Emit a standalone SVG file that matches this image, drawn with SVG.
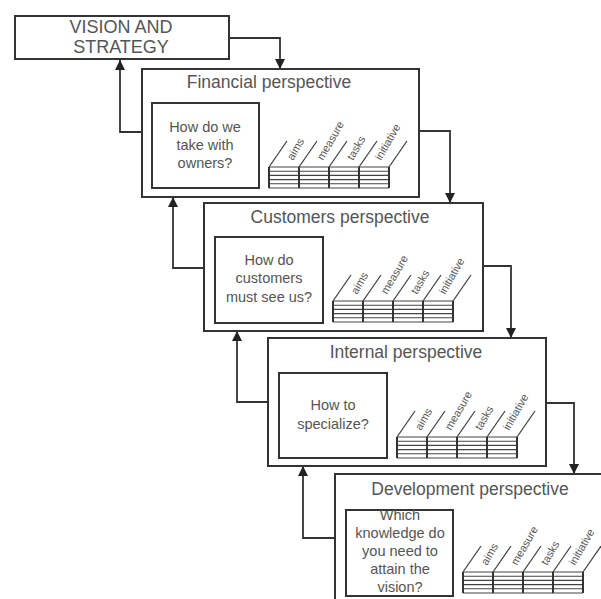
<svg xmlns="http://www.w3.org/2000/svg" xmlns:xlink="http://www.w3.org/1999/xlink" width="601" height="599" viewBox="0 0 601 599">
<style>
  .box { fill: #fff; stroke: #333; stroke-width: 2; }
  .qbox { fill: #fff; stroke: #333; stroke-width: 2; }
  .title { font-family: "Liberation Sans", Arial, sans-serif; font-size: 17.5px; fill: #555; text-anchor: middle; }
  .vis { font-family: "Liberation Sans", Arial, sans-serif; font-size: 18px; fill: #555; text-anchor: middle; }
  .q { font-family: "Liberation Sans", Arial, sans-serif; font-size: 14.5px; fill: #555; text-anchor: middle; }
  .lbl { font-family: "Liberation Sans", Arial, sans-serif; font-size: 11px; fill: #555; }
  .conn { fill: none; stroke: #333; stroke-width: 1.8; marker-end: url(#arr); }
  .h { stroke: #444; stroke-width: 1.1; }
  .v { stroke: #333; stroke-width: 2; }
  .d { stroke: #444; stroke-width: 1.3; }
</style>
<defs>
  <marker id="arr" markerUnits="userSpaceOnUse" markerWidth="10" markerHeight="10" refX="10" refY="5" orient="auto">
    <path d="M0,0 L10,5 L0,10 z" fill="#222"/>
  </marker>
  <g id="stack">
    <line class="h" x1="0" y1="0" x2="120" y2="0"/>
    <line class="h" x1="0" y1="4.2" x2="120" y2="4.2"/>
    <line class="h" x1="0" y1="8.4" x2="120" y2="8.4"/>
    <line class="h" x1="0" y1="12.6" x2="120" y2="12.6"/>
    <line class="h" x1="0" y1="16.8" x2="120" y2="16.8"/>
    <line class="h" x1="0" y1="21" x2="120" y2="21"/>
    <line class="v" x1="0" y1="0" x2="0" y2="21"/>
    <line class="v" x1="30" y1="0" x2="30" y2="21"/>
    <line class="v" x1="60" y1="0" x2="60" y2="21"/>
    <line class="v" x1="90" y1="0" x2="90" y2="21"/>
    <line class="v" x1="120" y1="0" x2="120" y2="21"/>
    <line class="d" x1="0" y1="0" x2="18" y2="-26"/>
    <line class="d" x1="30" y1="0" x2="48" y2="-26"/>
    <line class="d" x1="60" y1="0" x2="78" y2="-26"/>
    <line class="d" x1="90" y1="0" x2="108" y2="-26"/>
    <line class="d" x1="120" y1="0" x2="138" y2="-26"/>
  </g>
</defs>
<rect width="601" height="599" fill="#fff"/>

<g id="connectors">
  <path class="conn" d="M229,38 H280 V69"/>
  <path class="conn" d="M143,132 H120 V60"/>
  <path class="conn" d="M419,131 H450 V203"/>
  <path class="conn" d="M204,268 H173 V197"/>
  <path class="conn" d="M483,266 H511 V338"/>
  <path class="conn" d="M268,402 H237 V331"/>
  <path class="conn" d="M546,403 H574 V474"/>
  <path class="conn" d="M335,538 H303 V466"/>
</g>

<g id="vision">
  <rect class="box" x="15" y="16" width="214" height="43"/>
  <text class="vis" x="121" y="33">VISION AND</text>
  <text class="vis" x="121" y="53">STRATEGY</text>
</g>

<g id="financial">
  <rect class="box" x="142" y="69" width="277" height="128"/>
  <text class="title" x="269" y="88">Financial perspective</text>
  <rect class="qbox" x="152" y="103" width="107" height="85"/>
  <text class="q" x="205" y="132">How do we</text>
  <text class="q" x="205" y="150">take with</text>
  <text class="q" x="205" y="168">owners?</text>
  <use xlink:href="#stack" x="269" y="167"/>
  <text class="lbl" transform="translate(293,161) rotate(-60)">aims</text>
  <text class="lbl" transform="translate(323,161) rotate(-60)">measure</text>
  <text class="lbl" transform="translate(353,161) rotate(-60)">tasks</text>
  <text class="lbl" transform="translate(381,161) rotate(-60)">initiative</text>
</g>

<g id="customers">
  <rect class="box" x="204" y="203" width="279" height="128"/>
  <text class="title" x="340" y="223">Customers perspective</text>
  <rect class="qbox" x="215" y="237" width="108" height="86"/>
  <text class="q" x="269" y="265">How do</text>
  <text class="q" x="269" y="283">customers</text>
  <text class="q" x="269" y="302">must see us?</text>
  <use xlink:href="#stack" x="333" y="301"/>
  <text class="lbl" transform="translate(357,295) rotate(-60)">aims</text>
  <text class="lbl" transform="translate(387,295) rotate(-60)">measure</text>
  <text class="lbl" transform="translate(417,295) rotate(-60)">tasks</text>
  <text class="lbl" transform="translate(445,295) rotate(-60)">initiative</text>
</g>

<g id="internal">
  <rect class="box" x="268" y="338" width="278" height="128"/>
  <text class="title" x="406" y="358">Internal perspective</text>
  <rect class="qbox" x="279" y="373" width="108" height="85"/>
  <text class="q" x="333" y="410">How to</text>
  <text class="q" x="333" y="429">specialize?</text>
  <use xlink:href="#stack" x="397" y="437"/>
  <text class="lbl" transform="translate(421,431) rotate(-60)">aims</text>
  <text class="lbl" transform="translate(451,431) rotate(-60)">measure</text>
  <text class="lbl" transform="translate(481,431) rotate(-60)">tasks</text>
  <text class="lbl" transform="translate(509,431) rotate(-60)">initiative</text>
</g>

<g id="development">
  <rect class="box" x="335" y="474" width="290" height="140"/>
  <text class="title" x="470" y="495">Development perspective</text>
  <rect class="qbox" x="346" y="510" width="107" height="86"/>
  <text class="q" x="400" y="520">Which</text>
  <text class="q" x="400" y="538">knowledge do</text>
  <text class="q" x="400" y="556">you need to</text>
  <text class="q" x="400" y="574">attain the</text>
  <text class="q" x="400" y="592">vision?</text>
  <use xlink:href="#stack" x="463" y="572"/>
  <text class="lbl" transform="translate(487,566) rotate(-60)">aims</text>
  <text class="lbl" transform="translate(517,566) rotate(-60)">measure</text>
  <text class="lbl" transform="translate(547,566) rotate(-60)">tasks</text>
  <text class="lbl" transform="translate(575,566) rotate(-60)">initiative</text>
</g>
</svg>
